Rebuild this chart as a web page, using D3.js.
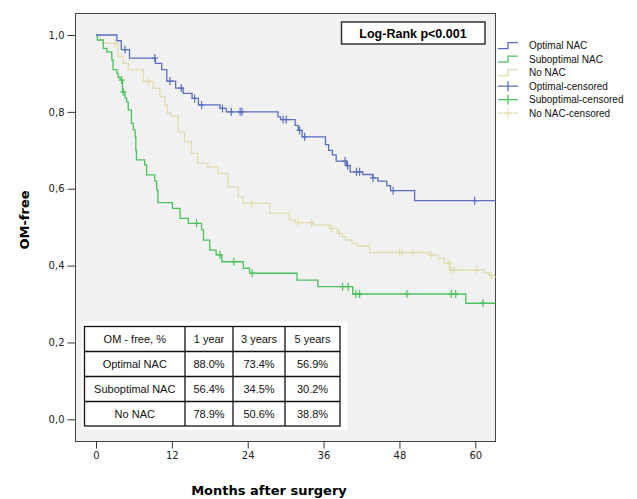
<!DOCTYPE html>
<html>
<head>
<meta charset="utf-8">
<script src="https://cdn.jsdelivr.net/npm/d3@7"></script>
<style>
  body { margin: 0; background: #fff; }
  svg { display: block; }
</style>
</head>
<body>
<div id="chart"></div>
<script>
// Kaplan-Meier step data (months, OM-free proportion after the step)
let optTime = [0, 3.3, 4.0, 5.3, 9.4, 10.4, 11.2, 12.6, 13.8, 15.2, 16.2, 19.6, 20.6, 28.8, 29.2, 31.5, 32.0, 32.6, 36.3, 36.8, 37.4, 38.0, 39.6, 40.2, 42.2, 43.8, 44.6, 46.0, 46.6, 50.4];
let optSurv = [1.0, 0.985, 0.962, 0.94, 0.926, 0.91, 0.88, 0.862, 0.848, 0.835, 0.818, 0.809, 0.80, 0.787, 0.78, 0.765, 0.752, 0.735, 0.715, 0.70, 0.688, 0.672, 0.66, 0.644, 0.637, 0.628, 0.62, 0.608, 0.595, 0.569];
let optCensor = [4.6, 9.3, 11.7, 13.5, 15.6, 16.7, 20.0, 21.4, 22.8, 23.1, 29.6, 30.1, 32.2, 33.0, 39.4, 39.8, 41.2, 41.7, 43.8, 47.0, 59.9];

let subTime = [0, 0.2, 1.15, 1.7, 2.5, 2.7, 3.3, 3.5, 3.8, 4.2, 4.6, 4.85, 5.1, 5.6, 5.9, 6.2, 6.3, 6.4, 7.7, 8.0, 9.3, 9.6, 9.8, 12.1, 13.3, 14.6, 16.7, 17.0, 18.0, 19.0, 19.9, 23.3, 24.3, 31.8, 35.1, 40.6, 58.5];
let subSurv = [1.0, 0.987, 0.965, 0.956, 0.935, 0.91, 0.90, 0.89, 0.883, 0.852, 0.836, 0.826, 0.805, 0.77, 0.753, 0.735, 0.70, 0.675, 0.662, 0.636, 0.62, 0.597, 0.564, 0.549, 0.523, 0.51, 0.493, 0.466, 0.44, 0.428, 0.41, 0.393, 0.38, 0.362, 0.345, 0.326, 0.302];
let subCensor = [4.05, 4.3, 15.9, 19.6, 21.8, 24.7, 39.0, 39.9, 41.1, 41.7, 49.2, 56.2, 56.9, 61.2];

let noTime = [0, 0.63, 1.15, 3.5, 4.3, 5.1, 7.5, 9.05, 10.1, 10.9, 11.3, 11.9, 13.0, 14.0, 15.1, 16.1, 17.7, 19.3, 20.9, 22.5, 23.3, 27.5, 30.6, 31.5, 34.5, 37.0, 38.2, 39.0, 39.5, 40.5, 41.3, 43.3, 52.6, 54.1, 55.1, 56.0, 61.5, 62.2, 63.0];
let noSurv = [1.0, 0.987, 0.978, 0.944, 0.926, 0.909, 0.879, 0.861, 0.84, 0.818, 0.797, 0.789, 0.748, 0.722, 0.692, 0.666, 0.657, 0.64, 0.605, 0.579, 0.562, 0.536, 0.519, 0.512, 0.506, 0.497, 0.484, 0.475, 0.467, 0.458, 0.451, 0.434, 0.428, 0.419, 0.406, 0.388, 0.381, 0.375, 0.371];
let noCensor = [3.0, 8.3, 24.6, 31.96, 34.1, 37.2, 38.5, 48.0, 48.4, 50.1, 53.0, 55.9, 56.2, 56.7, 60.2, 62.5];

let xTicks = [0, 12, 24, 36, 48, 60];
let yTicks = [0, 0.2, 0.4, 0.6, 0.8, 1.0];

let legendNames = ["Optimal NAC", "Suboptimal NAC", "No NAC", "Optimal-censored", "Suboptimal-censored", "No NAC-censored"];

let tableHeader = ["OM - free, %", "1 year", "3 years", "5 years"];
let tableGroups = ["Optimal NAC", "Suboptimal NAC", "No NAC"];
let tableOpt = ["88.0%", "73.4%", "56.9%"];
let tableSub = ["56.4%", "34.5%", "30.2%"];
let tableNo = ["78.9%", "50.6%", "38.8%"];

let colors = ["#5b6fc2", "#4cc25f", "#e2dcae"];

let width = 637, height = 499;
let svg = d3.select("#chart").append("svg").attr("width", width).attr("height", height);

// frame of the plot
let frame = { left: 75.5, right: 495.5, top: 13.5, bottom: 441.5 };
let tEnd = 63.2;

let x = d3.scaleLinear().domain([0, 60]).range([96, 475.3]);
let y = d3.scaleLinear().domain([0, 1]).range([419.3, 35]);

svg.append("rect")
  .attr("x", frame.left).attr("y", frame.top)
  .attr("width", frame.right - frame.left).attr("height", frame.bottom - frame.top)
  .attr("fill", "#f1f1f1").attr("stroke", "#444").attr("stroke-width", 1);

// axes
let fmt = d3.format(".1f");
let yAxis = svg.append("g")
  .attr("transform", `translate(${frame.left},0)`)
  .call(d3.axisLeft(y).tickValues(yTicks).tickSize(8).tickPadding(3).tickFormat(d => fmt(d).replace(".", ",")));
let xAxis = svg.append("g")
  .attr("transform", `translate(0,${frame.bottom})`)
  .call(d3.axisBottom(x).tickValues(xTicks).tickSize(7).tickPadding(3));
[xAxis, yAxis].forEach(a => {
  a.select(".domain").remove();
  a.selectAll("line").attr("stroke", "#333");
  a.selectAll("text").attr("font-family", "DejaVu Sans").attr("font-size", 10).attr("fill", "#222");
});

svg.append("text")
  .attr("x", 269).attr("y", 495)
  .attr("text-anchor", "middle")
  .attr("font-family", "DejaVu Sans").attr("font-weight", "bold").attr("font-size", 13)
  .text("Months after surgery");
svg.append("text")
  .attr("transform", "translate(29,220) rotate(-90)")
  .attr("text-anchor", "middle")
  .attr("font-family", "DejaVu Sans").attr("font-weight", "bold").attr("font-size", 13)
  .text("OM-free");

// survival curves
let groups = [
  { time: optTime, surv: optSurv, cens: optCensor, color: colors[0] },
  { time: subTime, surv: subSurv, cens: subCensor, color: colors[1] },
  { time: noTime, surv: noSurv, cens: noCensor, color: colors[2] }
];

let line = d3.line().x(d => x(d[0])).y(d => y(d[1])).curve(d3.curveStepAfter);

// draw back to front: No NAC, Suboptimal, Optimal
[2, 1, 0].forEach(i => {
  let g = groups[i];
  let pts = g.time.map((t, j) => [t, g.surv[j]]);
  pts.push([tEnd, g.surv[g.surv.length - 1]]);
  svg.append("path")
    .datum(pts)
    .attr("d", line)
    .attr("fill", "none")
    .attr("stroke", g.color)
    .attr("stroke-width", 1.3);

  // censor marks sit on the curve value at that time
  let survAt = t => {
    let k = d3.bisectRight(g.time, t) - 1;
    return g.surv[Math.max(k, 0)];
  };
  let cg = svg.append("g").attr("stroke", g.color).attr("stroke-width", 1.2);
  g.cens.forEach(t => {
    let cx = x(t), cy = y(survAt(t));
    cg.append("line").attr("x1", cx).attr("x2", cx).attr("y1", cy - 4).attr("y2", cy + 4);
    cg.append("line").attr("x1", cx - 3).attr("x2", cx + 3).attr("y1", cy).attr("y2", cy);
  });
});

// Log-rank box
svg.append("rect")
  .attr("x", 341.5).attr("y", 22).attr("width", 143.5).attr("height", 22)
  .attr("fill", "#fff").attr("stroke", "#333").attr("stroke-width", 1.5);
svg.append("text")
  .attr("x", 413).attr("y", 37.5)
  .attr("text-anchor", "middle")
  .attr("font-family", "Liberation Sans").attr("font-weight", "bold").attr("font-size", 12.5)
  .text("Log-Rank p<0.001");

// legend
let legY = [45.7, 59.2, 72.7, 86.2, 99.7, 113.2];
legendNames.forEach((name, i) => {
  let c = colors[i % 3];
  let ly = legY[i];
  if (i < 3) {
    svg.append("path")
      .attr("d", `M498,${ly + 3}H508V${ly - 3}H518`)
      .attr("fill", "none").attr("stroke", c).attr("stroke-width", 1.3);
  } else {
    svg.append("path")
      .attr("d", `M498,${ly}H518M508,${ly - 5}V${ly + 5}`)
      .attr("fill", "none").attr("stroke", c).attr("stroke-width", 1.3);
  }
  svg.append("text")
    .attr("x", 529).attr("y", ly + 3.5)
    .attr("font-family", "Liberation Sans").attr("font-size", 10)
    .attr("fill", "#111")
    .text(name);
});

// survival table
svg.append("rect")
  .attr("x", 81.5).attr("y", 321.5).attr("width", 266).attr("height", 108.5)
  .attr("fill", "#fff");

let colX = [84.5, 185, 233, 285, 340];
let rowY = [326.5, 351.5, 376.5, 401.5, 426];
let rows = [tableHeader,
  [tableGroups[0]].concat(tableOpt),
  [tableGroups[1]].concat(tableSub),
  [tableGroups[2]].concat(tableNo)];

let tg = svg.append("g");
tg.append("rect")
  .attr("x", colX[0]).attr("y", rowY[0])
  .attr("width", colX[4] - colX[0]).attr("height", rowY[4] - rowY[0])
  .attr("fill", "none").attr("stroke", "#111").attr("stroke-width", 1.3);
colX.slice(1, 4).forEach(cx => {
  tg.append("line").attr("x1", cx).attr("x2", cx).attr("y1", rowY[0]).attr("y2", rowY[4])
    .attr("stroke", "#111").attr("stroke-width", 1.3);
});
rowY.slice(1, 4).forEach(ry => {
  tg.append("line").attr("x1", colX[0]).attr("x2", colX[4]).attr("y1", ry).attr("y2", ry)
    .attr("stroke", "#111").attr("stroke-width", 1.3);
});
rows.forEach((r, i) => {
  r.forEach((txt, j) => {
    tg.append("text")
      .attr("x", (colX[j] + colX[j + 1]) / 2)
      .attr("y", (rowY[i] + rowY[i + 1]) / 2 + 4)
      .attr("text-anchor", "middle")
      .attr("font-family", "Liberation Sans").attr("font-size", 11)
      .attr("fill", "#111")
      .text(txt);
  });
});
</script>
</body>
</html>
